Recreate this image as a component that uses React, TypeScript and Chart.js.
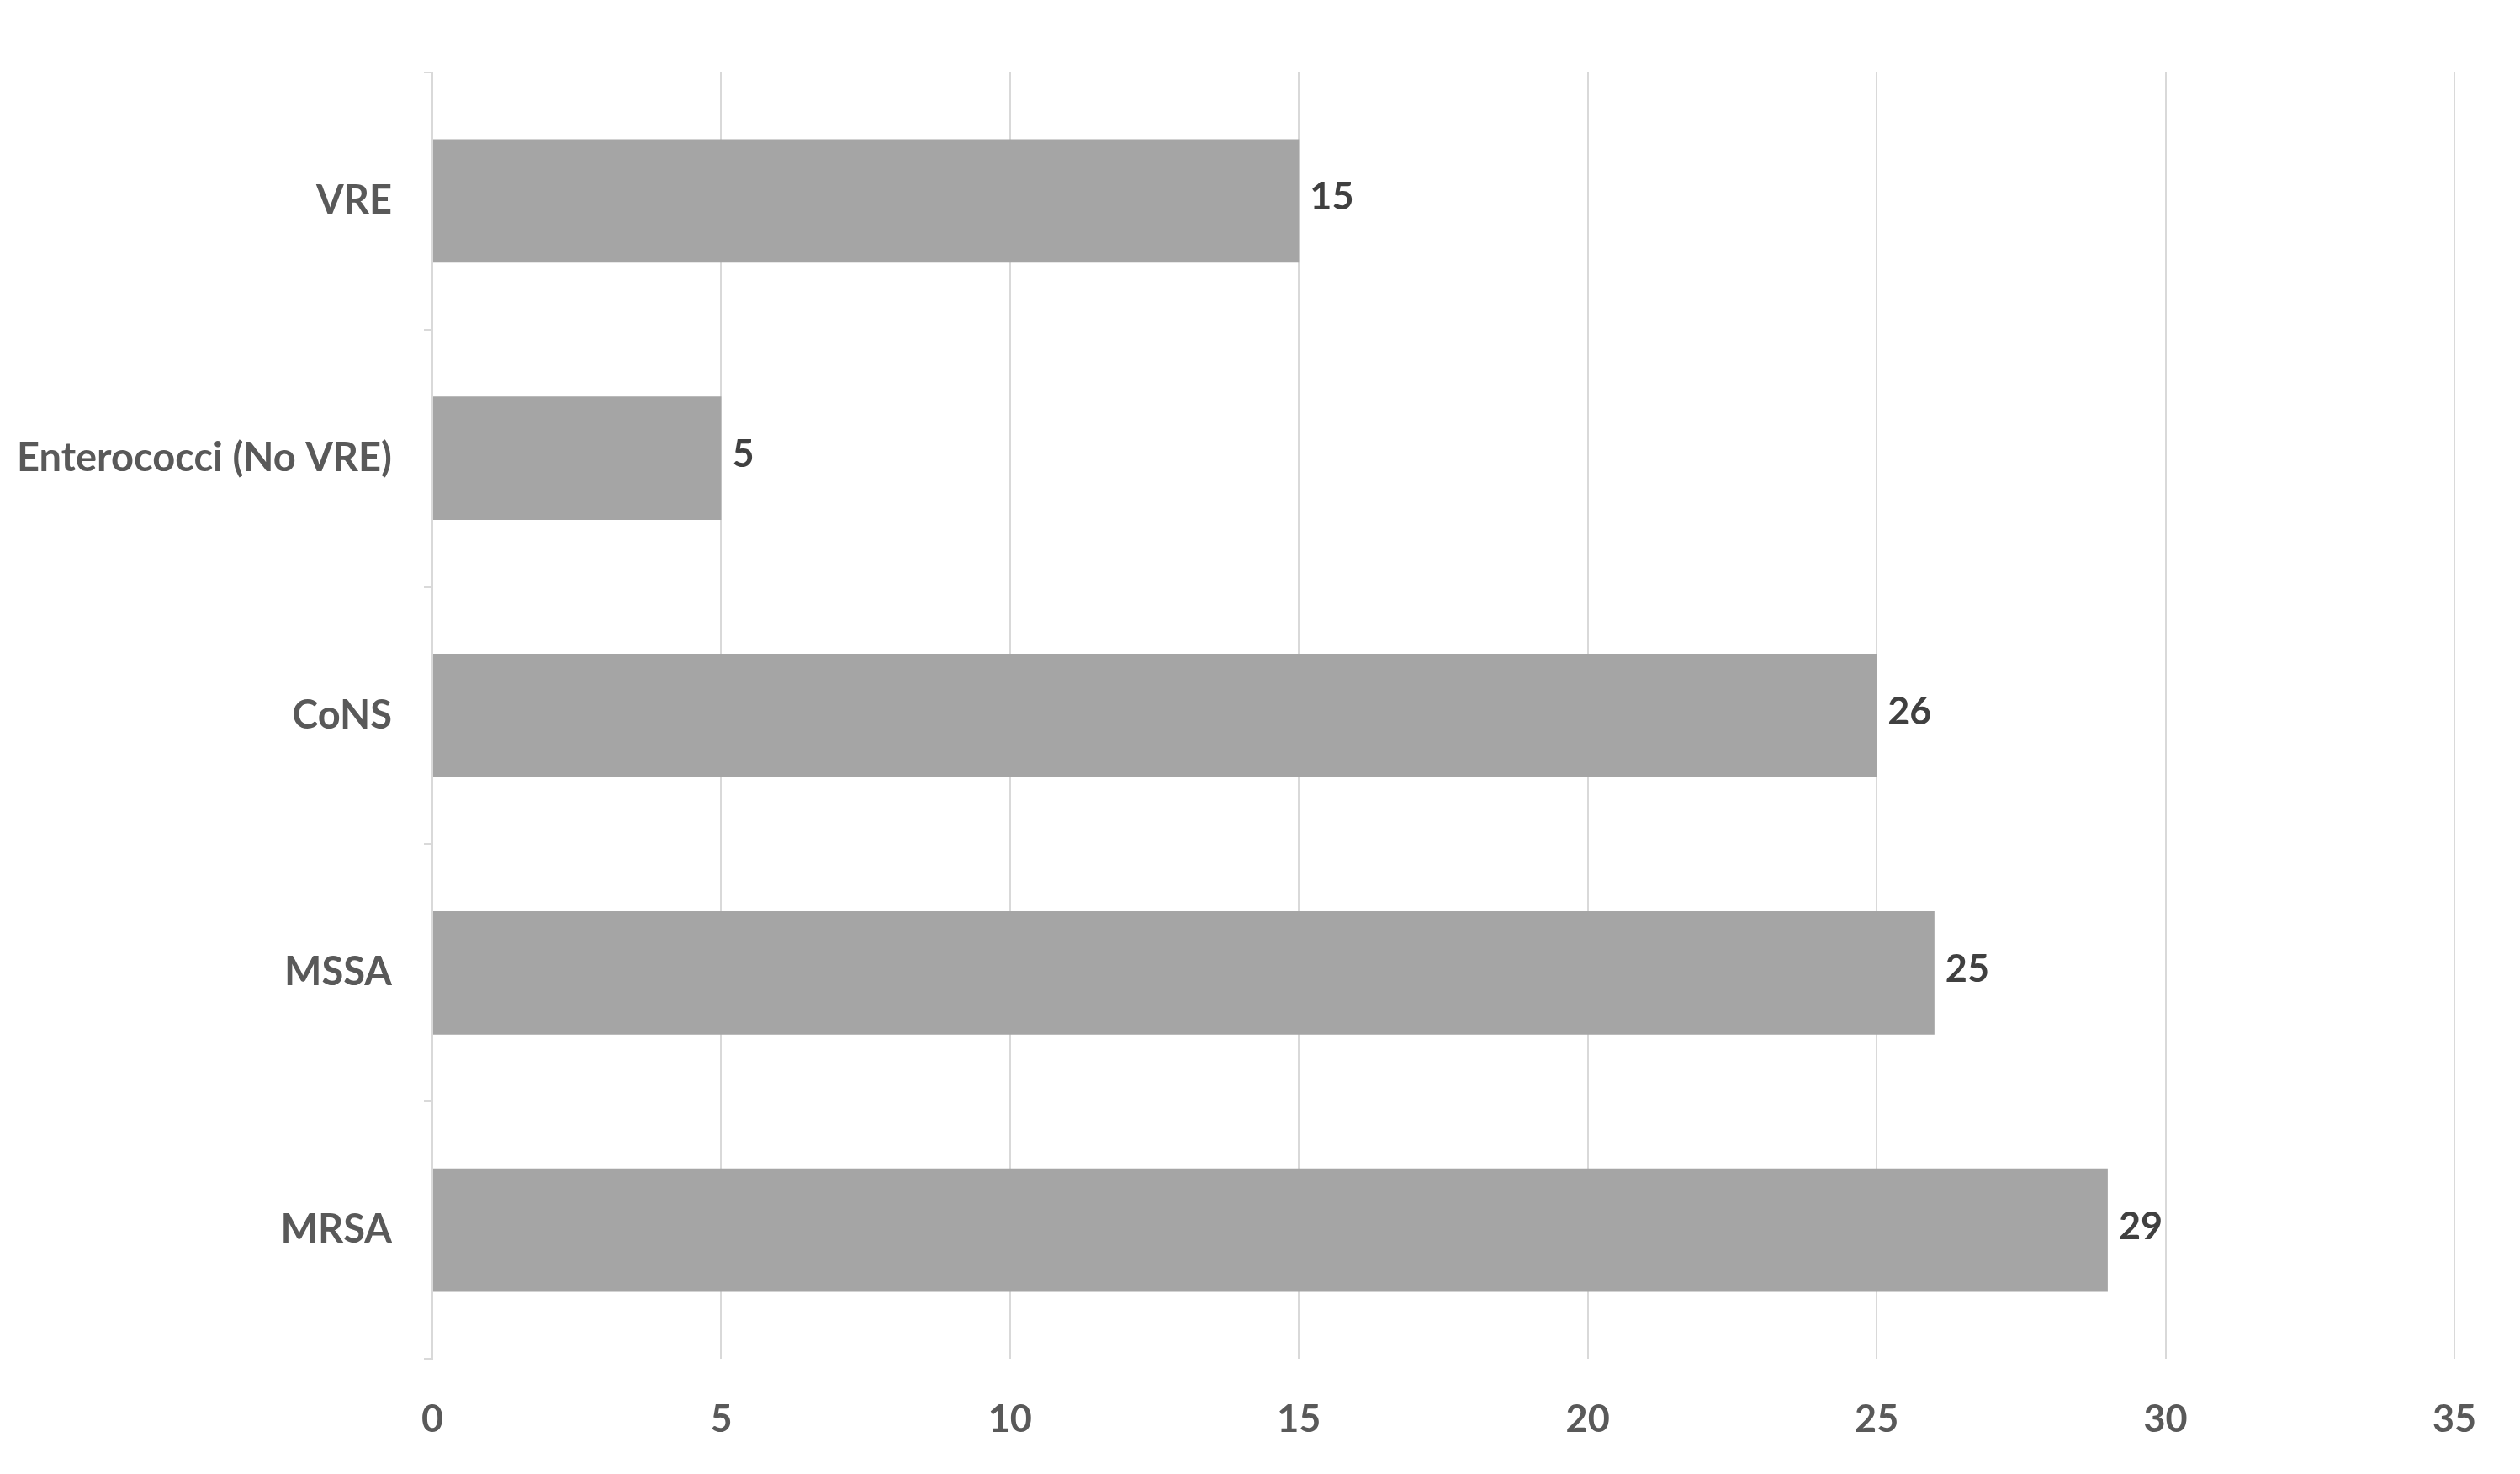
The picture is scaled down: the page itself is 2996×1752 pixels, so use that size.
import React, { useEffect, useRef } from "react";
import { Chart, registerables } from "chart.js";

Chart.register(...registerables);

const categories = ["VRE", "Enterococci (No VRE)", "CoNS", "MSSA", "MRSA"];
const barValues = [15, 5, 25, 26, 29];
const labelValues = ["15", "5", "26", "25", "29"];
const xTicks = [0, 5, 10, 15, 20, 25, 30, 35];

const W = 2996;
const H = 1752;
const FONT = "Lato, 'Open Sans', sans-serif";

const valueLabelPlugin = {
  id: "valueLabels",
  afterDatasetsDraw(chart: any) {
    const ctx = chart.ctx;
    const meta = chart.getDatasetMeta(0);
    ctx.save();
    ctx.font = `bold 45px ${FONT}`;
    ctx.fillStyle = "#404040";
    ctx.textAlign = "left";
    ctx.textBaseline = "middle";
    meta.data.forEach((bar: any, i: number) => {
      ctx.fillText(labelValues[i], bar.x + 13, bar.y - 4);
    });
    ctx.restore();
  },
};

export default function App() {
  const ref = useRef<HTMLCanvasElement | null>(null);
  useEffect(() => {
    document.body.style.margin = "0";
    if (!ref.current) return;
    const chart = new Chart(ref.current, {
      type: "bar",
      data: {
        labels: categories,
        datasets: [
          {
            data: barValues,
            backgroundColor: "#a5a5a5",
            borderWidth: 0,
            categoryPercentage: 1,
            barPercentage: 0.48,
          },
        ],
      },
      options: {
        indexAxis: "y",
        animation: false,
        responsive: false,
        maintainAspectRatio: false,
        layout: { padding: { top: 86, right: 78, left: 0, bottom: 0 } },
        plugins: {
          legend: { display: false },
          tooltip: { enabled: false },
          title: { display: false },
        },
        scales: {
          x: {
            type: "linear",
            min: 0,
            max: 35,
            afterBuildTicks: (s: any) => {
              s.ticks = xTicks.map((v) => ({ value: v }));
            },
            afterFit: (s: any) => {
              s.height = H - 1615;
            },
            grid: {
              color: "#d9d9d9",
              lineWidth: 2,
              drawTicks: false,
            },
            border: { display: false },
            ticks: {
              color: "#595959",
              font: { family: FONT, size: 45, weight: "bold" },
              padding: 45,
            },
          },
          y: {
            type: "category",
            offset: true,
            afterFit: (s: any) => {
              s.width = 514;
            },
            grid: {
              offset: true,
              drawOnChartArea: false,
              drawTicks: true,
              tickLength: 10,
              color: "#d9d9d9",
              lineWidth: 2,
            },
            border: { display: true, color: "#d9d9d9", width: 2 },
            ticks: {
              color: "#595959",
              font: { family: FONT, size: 47, weight: "bold" },
              padding: 38,
            },
          },
        },
      },
      plugins: [valueLabelPlugin],
    } as any);
    return () => chart.destroy();
  }, []);
  return (
    <div style={{ position: "absolute", left: 0, top: 0, width: W, height: H, background: "#ffffff" }}>
      <canvas ref={ref} width={W} height={H} style={{ width: W, height: H, display: "block" }} />
    </div>
  );
}
